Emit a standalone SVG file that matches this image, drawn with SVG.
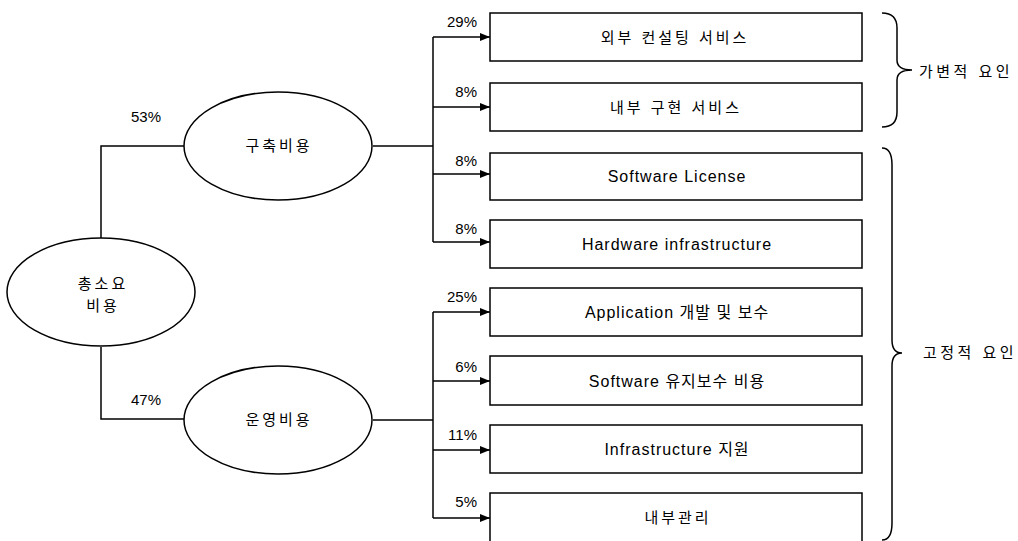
<svg xmlns="http://www.w3.org/2000/svg" width="1018" height="541" viewBox="0 0 1018 541">
<defs>
<marker id="arr" markerWidth="10" markerHeight="8" refX="10" refY="4" orient="auto" markerUnits="userSpaceOnUse">
<path d="M0,0 L10,4 L0,8 Z" fill="#000"/>
</marker>
<style>
.ln{fill:none;stroke:#000;stroke-width:1.5}
.box{fill:#fff;stroke:#000;stroke-width:1.5}
.t{font-family:"Liberation Sans","Noto Sans CJK KR",sans-serif;font-size:16px;fill:#000;text-anchor:middle;letter-spacing:1px}
.k{font-family:"Liberation Sans","Noto Sans CJK KR",sans-serif;font-size:15px;fill:#000;text-anchor:middle;letter-spacing:3px}
.p{font-family:"Liberation Sans","Noto Sans CJK KR",sans-serif;font-size:15px;fill:#000;text-anchor:end}
.s{font-family:"Liberation Sans","Noto Sans CJK KR",sans-serif;font-size:15px;fill:#000;text-anchor:start;letter-spacing:3.5px}
</style>
</defs>
<rect width="1018" height="541" fill="#fff"/>
<g id="connectors">
<path class="ln" d="M101,238 L101,146 L184,146"/>
<path class="ln" d="M101,347 L101,419 L184,419"/>
<path class="ln" d="M373,146 L433,146"/>
<path class="ln" d="M373,420 L433,420"/>
<path class="ln" d="M433,37 L433,242"/>
<path class="ln" d="M433,312 L433,518"/>
<path class="ln" marker-end="url(#arr)" d="M433,37 L490,37"/>
<path class="ln" marker-end="url(#arr)" d="M433,107 L490,107"/>
<path class="ln" marker-end="url(#arr)" d="M433,174 L490,174"/>
<path class="ln" marker-end="url(#arr)" d="M433,242 L490,242"/>
<path class="ln" marker-end="url(#arr)" d="M433,312 L490,312"/>
<path class="ln" marker-end="url(#arr)" d="M433,381 L490,381"/>
<path class="ln" marker-end="url(#arr)" d="M433,450 L490,450"/>
<path class="ln" marker-end="url(#arr)" d="M433,518 L490,518"/>
<text class="p" x="161" y="122">53%</text>
<text class="p" x="161" y="405">47%</text>
<text class="p" x="477" y="27">29%</text>
<text class="p" x="477" y="97">8%</text>
<text class="p" x="477" y="166">8%</text>
<text class="p" x="477" y="234">8%</text>
<text class="p" x="477" y="302">25%</text>
<text class="p" x="477" y="372">6%</text>
<text class="p" x="477" y="440">11%</text>
<text class="p" x="477" y="507">5%</text>
</g>
<g id="total">
<ellipse class="box" cx="101" cy="292" rx="94" ry="54"/>
<text class="k" x="103" y="289">총소요</text>
<text class="k" x="103" y="311">비용</text>
</g>
<g id="build">
<ellipse class="box" cx="278" cy="146" rx="94" ry="54"/>
<text class="k" x="279" y="151">구축비용</text>
</g>
<g id="operate">
<ellipse class="box" cx="278" cy="420" rx="94" ry="54"/>
<text class="k" x="279" y="425">운영비용</text>
</g>
<g id="b1"><rect class="box" x="490" y="13" width="372" height="48"/><text class="k" x="675" y="43">외부 컨설팅 서비스</text></g>
<g id="b2"><rect class="box" x="490" y="83" width="372" height="48"/><text class="k" x="676" y="113">내부 구현 서비스</text></g>
<g id="b3"><rect class="box" x="490" y="153" width="372" height="47"/><text class="t" x="677" y="182">Software License</text></g>
<g id="b4"><rect class="box" x="490" y="220" width="372" height="48"/><text class="t" x="677" y="250">Hardware infrastructure</text></g>
<g id="b5"><rect class="box" x="490" y="288" width="372" height="48"/><text class="t" x="677" y="318">Application 개발 및 보수</text></g>
<g id="b6"><rect class="box" x="490" y="356" width="372" height="49"/><text class="t" x="677" y="387">Software 유지보수 비용</text></g>
<g id="b7"><rect class="box" x="490" y="425" width="372" height="48"/><text class="t" x="677" y="455">Infrastructure 지원</text></g>
<g id="b8"><rect class="box" x="490" y="493" width="372" height="60"/><text class="k" x="678" y="523">내부관리</text></g>
<g id="variable">
<path class="ln" d="M882,13 Q897,13 897,28 L897,60 Q897,70 912,70 Q897,70 897,80 L897,112 Q897,127 882,127"/>
<text class="s" x="919" y="77">가변적 요인</text>
</g>
<g id="fixed">
<path class="ln" d="M882,148 Q892,148 892,165 L892,340 Q892,353 902,353 Q892,353 892,366 L892,523 Q892,540 882,540"/>
<text class="s" x="923" y="358">고정적 요인</text>
</g>
</svg>
